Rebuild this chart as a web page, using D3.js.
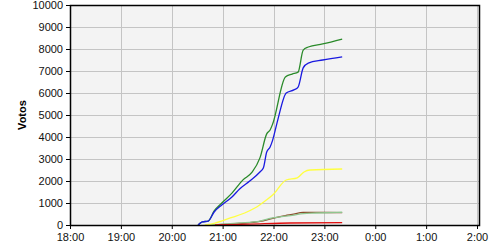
<!DOCTYPE html>
<html>
<head>
<meta charset="utf-8">
<script src="https://cdn.jsdelivr.net/npm/d3@7"></script>
<style>
    body { margin: 0; background: #fff; }
    svg text { font-family: "Liberation Sans", Arial, sans-serif; }
</style>
</head>
<body>
<svg id="chart" width="500" height="250"></svg>
<script>
// x ticks (hours) and y ticks
const xTicks = ['18:00', '19:00', '20:00', '21:00', '22:00', '23:00', '0:00', '1:00', '2:00'];
const yTicks = [0, 1000, 2000, 3000, 4000, 5000, 6000, 7000, 8000, 9000, 10000];

// series: [time, votes]
const greenSeries = [['20:31', 0], ['20:36', 140], ['20:43', 180], ['20:50', 640], ['20:59', 1000], ['21:11', 1450],
    ['21:24', 2050], ['21:35', 2410], ['21:44', 3050], ['21:52', 4140], ['21:56', 4320], ['21:59', 4590],
    ['22:14', 6730], ['22:22', 6860], ['22:29', 6950], ['22:35', 7950], ['22:41', 8090], ['22:58', 8230], ['23:21', 8450]];
const blueSeries = [['20:31', 0], ['20:36', 140], ['20:43', 180], ['20:50', 590], ['20:59', 910], ['21:11', 1270],
    ['21:20', 1640], ['21:32', 2000], ['21:44', 2410], ['21:48', 2590], ['21:52', 3320], ['21:56', 3545], ['21:59', 3860],
    ['22:05', 4770], ['22:15', 6000], ['22:24', 6140], ['22:29', 6270], ['22:35', 7140], ['22:41', 7360], ['22:58', 7500], ['23:21', 7640]];
const yellowSeries = [['20:39', 0], ['20:51', 90], ['21:09', 320], ['21:26', 545], ['21:38', 770], ['21:50', 1090],
    ['21:59', 1360], ['22:15', 2045], ['22:28', 2140], ['22:36', 2410], ['22:43', 2500], ['23:21', 2545]];
const lightGreenSeries = [['20:45', 0], ['21:20', 90], ['21:44', 180], ['21:59', 320], ['22:14', 400], ['22:22', 440],
    ['22:35', 520], ['22:50', 545], ['23:21', 580]];
const brownSeries = [['20:50', 0], ['21:20', 70], ['21:44', 160], ['21:59', 300], ['22:14', 430], ['22:22', 480],
    ['22:35', 570], ['22:50', 570], ['23:21', 565]];
const redSeries = [['20:51', 0], ['21:32', 40], ['22:20', 90], ['23:21', 110]];

const series = [
    { values: brownSeries, color: '#8b4a2a' },
    { values: lightGreenSeries, color: '#8fc68f' },
    { values: redSeries, color: '#e01010' },
    { values: yellowSeries, color: '#ffff40' },
    { values: greenSeries, color: '#2a8a2a' },
    { values: blueSeries, color: '#1a1ae0' }
];

// times before noon belong to the next day
function parseTime(s) {
    let [h, m] = s.split(':').map(Number);
    return new Date(2000, 0, h < 12 ? 2 : 1, h, m);
}

let svg = d3.select('#chart');

let plotLeft = 70, plotRight = 480, plotTop = 5, plotBottom = 225;

let x = d3.scaleTime()
          .domain([parseTime('18:00'), parseTime('2:00')])
          .range([plotLeft, 477]);

let y = d3.scaleLinear()
          .domain([0, 10000])
          .range([plotBottom, plotTop]);

// plot background
svg.append('rect')
   .attr('x', plotLeft)
   .attr('y', plotTop)
   .attr('width', plotRight - plotLeft)
   .attr('height', plotBottom - plotTop)
   .attr('fill', '#f3f3f3');

let grid = svg.append('g');

grid.selectAll('.hgrid')
    .data(yTicks.slice(1))
    .enter()
    .append('line')
    .attr('x1', plotLeft)
    .attr('x2', plotRight)
    .attr('y1', d => y(d) + 0.5)
    .attr('y2', d => y(d) + 0.5)
    .attr('stroke', '#c4c4c4');

grid.selectAll('.vgrid')
    .data(xTicks.slice(1))
    .enter()
    .append('line')
    .attr('x1', d => Math.round(x(parseTime(d))) + 0.5)
    .attr('x2', d => Math.round(x(parseTime(d))) + 0.5)
    .attr('y1', plotTop)
    .attr('y2', plotBottom)
    .attr('stroke', '#c4c4c4');

let line = d3.line()
             .x(d => x(parseTime(d[0])))
             .y(d => y(d[1]))
             .curve(d3.curveMonotoneX);

svg.append('g')
   .selectAll('path')
   .data(series)
   .enter()
   .append('path')
   .attr('d', d => line(d.values))
   .attr('fill', 'none')
   .attr('stroke', d => d.color)
   .attr('stroke-width', 1.3)
   .attr('stroke-linejoin', 'round');

// frame
svg.append('rect')
   .attr('x', plotLeft + 0.5)
   .attr('y', plotTop + 0.5)
   .attr('width', plotRight - plotLeft - 1)
   .attr('height', plotBottom - plotTop)
   .attr('fill', 'none')
   .attr('stroke', '#000')
   .attr('stroke-width', 1.5);

// axes
svg.append('g')
   .attr('transform', `translate(${plotLeft},0)`)
   .call(d3.axisLeft(y).tickValues(yTicks).tickFormat(d3.format('d')).tickSize(4).tickSizeOuter(0).tickPadding(3))
   .call(g => g.select('.domain').remove())
   .call(g => g.selectAll('text').attr('font-size', 11).attr('font-family', null).attr('fill', '#111'));

svg.append('g')
   .attr('transform', `translate(0,${plotBottom})`)
   .call(d3.axisBottom(x).tickValues(xTicks.map(parseTime)).tickFormat(d3.timeFormat('%-H:%M')).tickSize(4).tickSizeOuter(0).tickPadding(4))
   .call(g => g.select('.domain').remove())
   .call(g => g.selectAll('text').attr('font-size', 11).attr('font-family', null).attr('fill', '#111'));

svg.append('text')
   .attr('transform', 'translate(26,115) rotate(-90)')
   .attr('text-anchor', 'middle')
   .attr('font-size', 11)
   .attr('font-weight', 'bold')
   .text('Votos');
</script>
</body>
</html>
